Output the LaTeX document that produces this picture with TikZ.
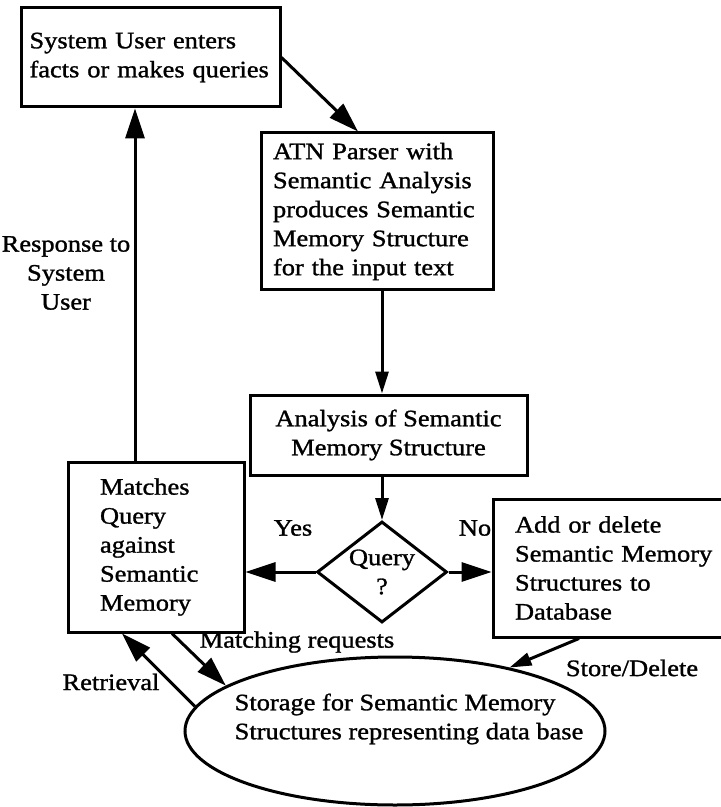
\documentclass[tikz,border=0pt]{standalone}
\usepackage{fontspec}
\setmainfont{Liberation Serif}[FakeStretch=1.12, FakeBold=1.2]
\usepackage{tikz}
\usetikzlibrary{arrows.meta, shapes.geometric}
\tikzstyle{bloque} = [draw, line width=1.5pt, rectangle, align=left, inner xsep=0pt, inner ysep=0pt]
\tikzstyle{pregunta} = [draw, line width=1.5pt, diamond, aspect=1.3, inner sep=0pt, minimum width=65pt, minimum height=50.5pt, align=center]
\tikzstyle{almacen} = [draw, line width=1.5pt, ellipse, inner sep=0pt, minimum width=210pt, minimum height=74pt]
\tikzstyle{flecha} = [line width=1.5pt, -{Triangle[length=15pt, width=9.5pt]}]
\tikzstyle{flechita} = [line width=1.5pt, -{Triangle[length=11pt, width=6.5pt]}]
\tikzstyle{rotulo} = [inner sep=0pt, align=center]

\begin{document}
\begin{tikzpicture}[x=0.5pt, y=-0.5pt, font=\fontsize{11.8}{14.5}\selectfont]
		\useasboundingbox (0,0) rectangle (720,807);
		% cajas
		\node[bloque, text width=121pt, minimum width=129.5pt, minimum height=49.5pt] (usuario) at (150.5,57.5) {System User enters\\facts or makes queries};
		\node[bloque, text width=104pt, minimum width=116pt, minimum height=78.5pt] (parser) at (377,211.5) {ATN Parser with\\Semantic Analysis\\produces Semantic\\Memory Structure\\for the input text};
		\node[bloque, align=center, minimum width=138.5pt, minimum height=40pt] (analisis) at (388.5,435) {Analysis of Semantic\\Memory Structure};
		\node[pregunta] (query) at (382,572) {Query\\?};
		\node[bloque, text width=56pt, minimum width=88pt, minimum height=85pt] (matches) at (156,547) {Matches\\Query\\against\\Semantic\\Memory};
		\node[bloque, text width=101pt, minimum width=123pt, minimum height=69pt] (agregar) at (616,568) {Add or delete\\Semantic Memory\\Structures to\\Database};
		\node[almacen] (storage) at (395,731) {};
		\node[rotulo, align=left] (storagetext) at (409,719) {Storage for Semantic Memory\\Structures representing data base};
		% flechas
		\draw[flecha] (usuario.east) -- ([xshift=-9.5pt]parser.north);
		\draw[flechita] (parser.south -| query.north) -- (analisis.north -| query.north);
		\draw[flechita] (analisis.south -| query.north) -- (query.north);
		\draw[flecha] (query.west) -- (query.west -| matches.east);
		\draw[flecha] (query.east) -- (query.east -| agregar.west);
		\draw[flecha] ([xshift=-10.5pt]matches.north) -- ([xshift=-10.5pt]matches.north |- usuario.south);
		\draw[flecha] ([xshift=8pt]matches.south) -- (storage.165);
		\draw[flecha] (storage.173) -- ([xshift=-17pt]matches.south);
		\draw[flechita] ([xshift=-18.5pt]agregar.south) -- (storage.29);
		% rotulos
		\node[rotulo] (yes) at (293,528) {Yes};
		\node[rotulo] (no) at (475,528) {No};
		\node[rotulo] (respuesta) at (66,273) {Response to\\System\\User};
		\node[rotulo] (pedidos) at (297,642) {Matching requests};
		\node[rotulo] (recuperar) at (111,682) {Retrieval};
		\node[rotulo] (guardar) at (632,668) {Store/Delete};
	\end{tikzpicture}
\end{document}
